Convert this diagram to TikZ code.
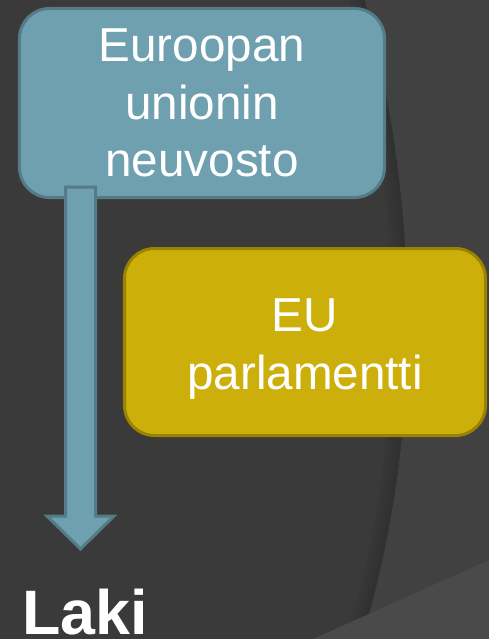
\documentclass[tikz,border=0pt]{standalone}
\usepackage{fontspec}
\setmainfont{Liberation Sans}
\usetikzlibrary{positioning,calc}
\definecolor{slide}{HTML}{3A3A3A}
\definecolor{slideLight}{HTML}{414141}
\definecolor{slideCorner}{HTML}{4A4A4A}
\definecolor{council}{HTML}{6FA0B0}
\definecolor{councilEdge}{HTML}{557B89}
\definecolor{parliament}{HTML}{CCAF0B}
\definecolor{parliamentEdge}{HTML}{9A8300}

\begin{document}
\begin{tikzpicture}[x=1bp, y=-1bp,
                body/.style={rectangle, rounded corners=30bp, line width=3bp, text=white, align=center, font=\fontsize{47.8}{57.5}\selectfont},
                councilbox/.style={body, fill=council, draw=councilEdge, minimum width=365bp, minimum height=189bp},
                parlbox/.style={body, fill=parliament, draw=parliamentEdge, minimum width=361bp, minimum height=187bp, text height=104bp, text depth=10bp},
                blockarrow/.style={fill=council, draw=councilEdge, line width=3bp, line join=miter},
                result/.style={text=white, font=\fontsize{63}{70}\selectfont\bfseries, inner sep=0pt, anchor=base west}
            ]

            % slide background
            \fill[slide] (0,0) rectangle (489,639);
            \foreach \d in {4,8,12,16}
                \fill[black, opacity=0.035] ({365-\d},0) .. controls ({420-\d},210) and ({425-\d},430) .. ({362-\d},639) -- (362,639) .. controls (425,430) and (420,210) .. (365,0) -- cycle;
            \fill[slideLight] (365,0) .. controls (420,210) and (425,430) .. (362,639) -- (489,639) -- (489,0) -- cycle;
            \fill[slideCorner] (313,639) -- (489,560) -- (489,639) -- cycle;
            \useasboundingbox (0,0) rectangle (489,639);

            \node (council) at (202,103) [councilbox] {Euroopan\\unionin\\neuvosto};
            \node (parliament) at (305,342) [parlbox] {EU\\parlamentti};
            \node (law) at (22,634) [result] {Laki};

            % arrow
            \coordinate (shafttop) at (80.5,187);
            \coordinate (tip) at (80.5,549);
            \path[blockarrow] ($(shafttop)+(-15,0)$) -- ($(shafttop)+(15,0)$) -- ($(tip)+(15,-33)$) -- ($(tip)+(33.5,-33)$) -- (tip) -- ($(tip)+(-33.5,-33)$) -- ($(tip)+(-15,-33)$) -- cycle;
        \end{tikzpicture}
\end{document}
